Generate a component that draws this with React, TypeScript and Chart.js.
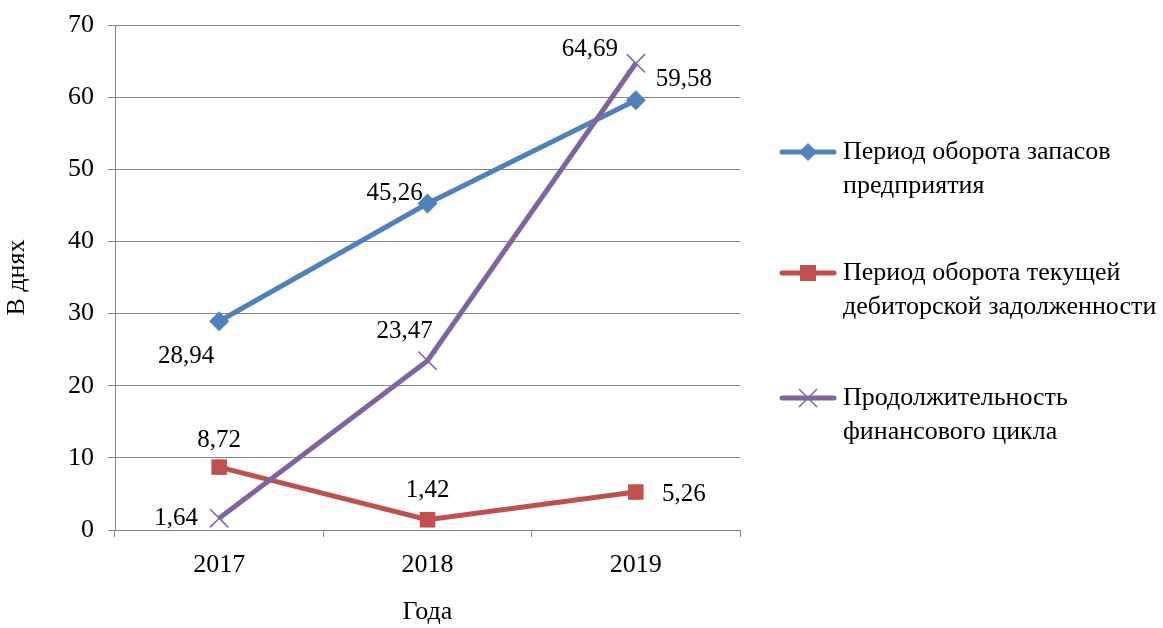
import React, { useEffect, useRef } from "react";
import { Chart, registerables } from "chart.js";

Chart.register(...registerables);

const categories = ["2017", "2018", "2019"];
const inventoryPeriod = [28.94, 45.26, 59.58];
const receivablesPeriod = [8.72, 1.42, 5.26];
const financialCycle = [1.64, 23.47, 64.69];
const seriesNames = [
  ["Период оборота запасов", "предприятия"],
  ["Период оборота текущей", "дебиторской задолженности"],
  ["Продолжительность", "финансового цикла"],
];
const yTitle = "В днях";
const xTitle = "Года";

const COLORS = ["#4F81BD", "#C0504D", "#8064A2"];
const FONT = "'Liberation Serif', 'Times New Roman', serif";

// label offsets (style), per dataset per point: [dx, dy] of text centre from point
const labelOffsets = [
  [[-33, 35], [-33, -10], [48, -21]],
  [[0, -27], [0, -29], [48, 2]],
  [[-43, 0], [-23, -29], [-46, -14]],
];

const fmt = (v: number) => v.toFixed(2).replace(".", ",");

const labelPlugin = {
  id: "pointLabels",
  afterDatasetsDraw(chart: any) {
    const ctx = chart.ctx;
    ctx.save();
    ctx.font = `25px ${FONT}`;
    ctx.fillStyle = "#000";
    ctx.textAlign = "center";
    ctx.textBaseline = "middle";
    chart.data.datasets.forEach((ds: any, di: number) => {
      const meta = chart.getDatasetMeta(di);
      meta.data.forEach((pt: any, i: number) => {
        const [dx, dy] = labelOffsets[di][i];
        ctx.fillText(fmt(ds.data[i]), pt.x + dx, pt.y + dy);
      });
    });
    ctx.restore();
  },
};

const legendPlugin = {
  id: "sideLegend",
  afterDraw(chart: any) {
    const ctx = chart.ctx;
    const ys = [152, 273, 398];
    ctx.save();
    chart.data.datasets.forEach((ds: any, di: number) => {
      const y = ys[di];
      const c = COLORS[di];
      ctx.strokeStyle = c;
      ctx.lineWidth = 5;
      ctx.lineCap = "round";
      ctx.beginPath();
      ctx.moveTo(782, y);
      ctx.lineTo(834, y);
      ctx.stroke();
      const cx = 808;
      ctx.fillStyle = c;
      if (di === 0) {
        ctx.beginPath();
        ctx.moveTo(cx, y - 9);
        ctx.lineTo(cx + 9, y);
        ctx.lineTo(cx, y + 9);
        ctx.lineTo(cx - 9, y);
        ctx.closePath();
        ctx.fill();
      } else if (di === 1) {
        ctx.fillRect(cx - 8, y - 8, 16, 16);
      } else {
        ctx.lineWidth = 1.5;
        ctx.lineCap = "butt";
        ctx.beginPath();
        ctx.moveTo(cx - 9, y - 9);
        ctx.lineTo(cx + 9, y + 9);
        ctx.moveTo(cx + 9, y - 9);
        ctx.lineTo(cx - 9, y + 9);
        ctx.stroke();
      }
      ctx.fillStyle = "#000";
      ctx.font = `26px ${FONT}`;
      ctx.textAlign = "left";
      ctx.textBaseline = "middle";
      seriesNames[di].forEach((line, li) => {
        ctx.fillText(line, 843, y + li * 34);
      });
    });
    ctx.restore();
  },
};

export default function App() {
  const ref = useRef<HTMLCanvasElement | null>(null);
  useEffect(() => {
    document.body.style.margin = "0";
    const chart = new Chart(ref.current as HTMLCanvasElement, {
      type: "line",
      data: {
        labels: categories,
        datasets: [
          {
            label: seriesNames[0].join(" "),
            data: inventoryPeriod,
            borderColor: COLORS[0],
            backgroundColor: COLORS[0],
            borderWidth: 5,
            pointStyle: "rectRot",
            pointRadius: 10,
            pointBorderWidth: 0,
            order: 3,
          },
          {
            label: seriesNames[1].join(" "),
            data: receivablesPeriod,
            borderColor: COLORS[1],
            backgroundColor: COLORS[1],
            borderWidth: 5,
            pointStyle: "rect",
            pointRadius: 11,
            pointBorderWidth: 0,
            order: 2,
          },
          {
            label: seriesNames[2].join(" "),
            data: financialCycle,
            borderColor: COLORS[2],
            backgroundColor: COLORS[2],
            borderWidth: 5,
            pointStyle: "crossRot",
            pointRadius: 13,
            pointBorderWidth: 1.5,
            order: 1,
          },
        ],
      },
      options: {
        responsive: false,
        animation: false,
        devicePixelRatio: 1,
        layout: { padding: { top: 25, right: 423, left: 0, bottom: 0 } },
        plugins: {
          legend: { display: false },
          tooltip: { enabled: false },
        },
        scales: {
          x: {
            offset: true,
            grid: {
              offset: true,
              drawOnChartArea: false,
              drawTicks: true,
              tickLength: 7,
              color: "#868686",
              lineWidth: 1,
            },
            border: { color: "#868686", width: 1 },
            ticks: { color: "#000", font: { family: FONT, size: 26 }, padding: 13 },
            title: {
              display: true,
              text: xTitle,
              color: "#000",
              font: { family: FONT, size: 26 },
              padding: { top: 0, bottom: 0 },
            },
            afterFit(scale: any) {
              scale.height = 98;
              scale.paddingLeft = 0;
              scale.paddingRight = 0;
            },
          },
          y: {
            min: 0,
            max: 70,
            ticks: {
              stepSize: 10,
              color: "#000",
              font: { family: FONT, size: 26 },
              padding: 14,
            },
            grid: { color: "#868686", lineWidth: 1, tickLength: 7 },
            border: { color: "#868686", width: 1 },
            title: {
              display: true,
              text: yTitle,
              color: "#000",
              font: { family: FONT, size: 26 },
              padding: { top: 2, bottom: 0 },
            },
            afterFit(scale: any) {
              scale.width = 115;
              scale.paddingTop = 0;
              scale.paddingBottom = 0;
            },
          },
        },
      },
      plugins: [labelPlugin, legendPlugin],
    } as any);
    return () => chart.destroy();
  }, []);
  return (
    <div style={{ position: "fixed", left: 0, top: 0, width: 1163, height: 628, background: "#fff" }}>
      <canvas ref={ref} width={1163} height={628} />
    </div>
  );
}
